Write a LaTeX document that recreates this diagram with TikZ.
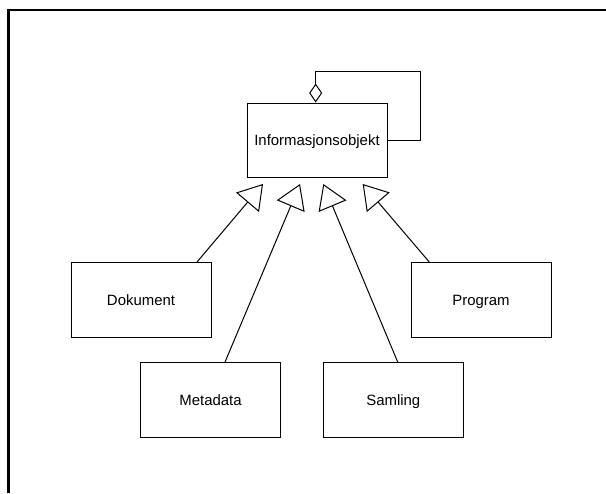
\documentclass[tikz,border=0pt]{standalone}
\usepackage{fontspec}
\setmainfont{Liberation Sans}
\usetikzlibrary{arrows.meta}
\begin{document}
\begin{tikzpicture}[
  x=0.75pt, y=-0.75pt,
  every node/.style={font=\fontsize{11.2pt}{13pt}\selectfont},
  classbox/.style={draw, line width=0.75pt, inner sep=0pt,
                   text height=8pt, text depth=0pt,
                   minimum width=105pt, minimum height=56.25pt},
  generalization/.style={line width=0.75pt,
                   -{Triangle[open, length=18pt, width=22.5pt]}},
  aggregation/.style={line width=0.75pt,
                   {Diamond[open, length=14.25pt, width=9.75pt]}-}
]
\useasboundingbox (0,0) rectangle (606,493);

% frame along the top and left edges
\draw[line width=2pt] (8.7,493) -- (8.7,10) -- (606,10);

% classes
\node[classbox, minimum height=55.5pt] (info) at (317,140) {Informasjonsobjekt};
\node[classbox] (dok)  at (141,300)   {Dokument};
\node[classbox] (prog) at (481,300)   {Program};
\node[classbox] (meta) at (210.5,400) {Metadata};
\node[classbox] (saml) at (393.3,400) {Samling};

% arrow tips just below the superclass
\coordinate (t1) at (263,184);
\coordinate (t2) at (300,184);
\coordinate (t3) at (323.3,184);
\coordinate (t4) at (362.7,184);

% generalizations
\draw[generalization] ([xshift=42pt]dok.north)    -- (t1);
\draw[generalization] ([xshift=10.9pt]meta.north) -- (t2);
\draw[generalization] ([xshift=3.3pt]saml.north)  -- (t3);
\draw[generalization] ([xshift=-38.8pt]prog.north) -- (t4);

% self aggregation
\coordinate (loop) at (420.7,140);
\draw[aggregation] ([xshift=-1pt]info.north) -- ++(0,-31) -| (loop) -- (info.east);
\end{tikzpicture}
\end{document}
